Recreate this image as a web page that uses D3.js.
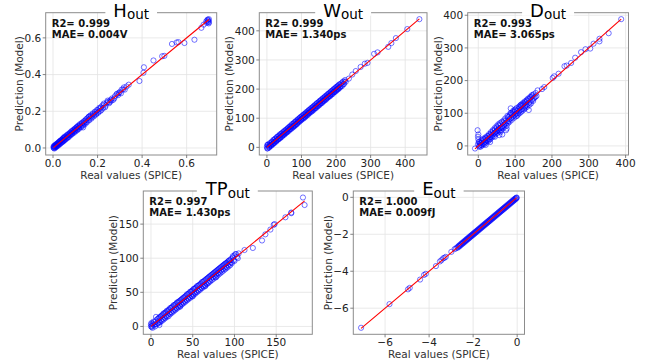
<!DOCTYPE html>
<html><head><meta charset="utf-8">
<script src="https://cdn.jsdelivr.net/npm/d3@7"></script>
<style>body{margin:0;background:#fff} svg{display:block;font-family:"DejaVu Sans",sans-serif}</style>
</head><body>
<svg id="c" width="654" height="360"></svg>
<script>
// ---------- data: [real (SPICE), prediction (model)] ----------
const hData = [[0.002,0.003],[0.004,0.000],[0.005,0.008],[0.007,0.004],[0.008,0.012],[0.010,0.006],[0.012,0.014],[0.013,0.009],[0.015,0.018],[0.017,0.012],[0.019,0.022],[0.021,0.016],[0.023,0.027],[0.025,0.020],[0.027,0.031],[0.029,0.024],[0.031,0.036],[0.033,0.028],[0.035,0.040],[0.037,0.032],[0.040,0.044],[0.042,0.037],[0.045,0.050],[0.047,0.042],[0.050,0.055],[0.052,0.046],[0.055,0.058],[0.058,0.052],[0.060,0.064],[0.063,0.058],[0.066,0.070],[0.069,0.063],[0.072,0.075],[0.075,0.070],[0.078,0.081],[0.081,0.076],[0.084,0.088],[0.087,0.082],[0.090,0.093],[0.093,0.088],[0.096,0.100],[0.099,0.094],[0.102,0.107],[0.105,0.100],[0.108,0.113],[0.111,0.106],[0.114,0.118],[0.117,0.112],[0.120,0.124],[0.124,0.118],[0.128,0.131],[0.132,0.125],[0.135,0.112],[0.136,0.140],[0.140,0.134],[0.144,0.148],[0.148,0.141],[0.152,0.160],[0.156,0.150],[0.160,0.170],[0.163,0.172],[0.165,0.160],[0.170,0.174],[0.175,0.168],[0.180,0.184],[0.185,0.180],[0.190,0.194],[0.195,0.188],[0.200,0.205],[0.205,0.198],[0.210,0.214],[0.215,0.222],[0.218,0.208],[0.222,0.232],[0.225,0.218],[0.230,0.236],[0.236,0.230],[0.242,0.248],[0.248,0.252],[0.252,0.244],[0.258,0.262],[0.265,0.270],[0.270,0.262],[0.278,0.282],[0.285,0.292],[0.292,0.288],[0.300,0.305],[0.308,0.318],[0.315,0.320],[0.322,0.318],[0.340,0.345],[0.388,0.365],[0.406,0.410],[0.408,0.440],[0.451,0.477],[0.490,0.500],[0.500,0.502],[0.534,0.567],[0.555,0.575],[0.563,0.577],[0.590,0.572],[0.635,0.590],[0.666,0.655],[0.676,0.672],[0.688,0.690],[0.690,0.682],[0.693,0.697],[0.695,0.700],[0.697,0.688],[0.698,0.694],[0.700,0.702],[0.699,0.679],[0.700,0.685],
[0.003,0.010],[0.006,-0.003],[0.009,0.016],[0.011,0.002],[0.014,0.021],[0.016,0.007],[0.020,0.026],[0.022,0.012],[0.026,0.033],[0.028,0.018],[0.032,0.039],[0.034,0.024],[0.038,0.045],[0.041,0.031],[0.044,0.052],[0.046,0.036],[0.049,0.058],[0.051,0.041],[0.054,0.063],[0.057,0.047],[0.062,0.070],[0.065,0.054],[0.068,0.076],[0.071,0.060],[0.076,0.084],[0.079,0.069],[0.083,0.092],[0.086,0.076],[0.091,0.099],[0.094,0.083],[0.098,0.106],[0.101,0.090],[0.106,0.114],[0.109,0.097],[0.113,0.122],[0.116,0.104],[0.121,0.130],[0.125,0.112],[0.130,0.138],[0.134,0.121],[0.139,0.146],[0.142,0.128],[0.147,0.155],[0.151,0.138],[0.158,0.166],[0.162,0.150],[0.168,0.178],[0.172,0.160],[0.178,0.188],[0.183,0.172],[0.188,0.198],[0.193,0.182],[0.198,0.208],[0.203,0.192],[0.208,0.219],[0.213,0.202],[0.228,0.242],[0.234,0.222],[0.245,0.258],[0.255,0.250],[0.262,0.258],[0.275,0.270],[0.288,0.296],[0.296,0.300],[0.305,0.298],[0.318,0.330],[0.330,0.335]];

const wData = [[0,2],[1,8],[2,-3],[3,10],[5,4],[6,-1],[8,6],[10,12],[11,7],[13,9],[15,18],[16,12],[18,14],[20,24],[21,17],[23,20],[25,30],[26,22],[28,25],[30,34],[32,28],[34,30],[36,40],[38,34],[40,37],[42,46],[44,40],[46,43],[48,52],[50,46],[52,49],[54,58],[56,52],[58,56],[60,64],[62,59],[64,62],[66,70],[68,64],[70,68],[72,75],[74,71],[76,72],[78,82],[80,76],[82,80],[84,88],[86,80],[88,86],[90,95],[92,89],[94,92],[96,102],[98,95],[100,98],[102,107],[104,101],[106,104],[108,113],[110,106],[112,110],[114,118],[116,113],[118,116],[120,125],[122,119],[124,122],[126,131],[128,125],[130,128],[132,137],[134,131],[136,134],[138,143],[140,136],[142,140],[144,150],[146,142],[148,146],[150,155],[152,149],[154,152],[156,161],[158,154],[160,158],[162,167],[164,160],[166,164],[168,173],[170,166],[172,170],[174,179],[176,173],[178,176],[180,185],[182,178],[184,182],[186,191],[188,184],[190,188],[192,197],[194,190],[196,194],[198,203],[200,196],[202,200],[204,209],[206,202],[208,205],[210,215],[212,208],[215,212],[218,222],[221,216],[224,226],[228,225],[237,236],[247,250],[257,262],[271,276],[283,287],[291,290],[310,321],[320,326],[351,345],[360,358],[373,375],[406,406],[441,440],
[1,-4],[4,9],[7,1],[9,15],[12,5],[14,20],[17,10],[19,26],[22,15],[24,30],[27,20],[29,36],[31,25],[33,39],[35,29],[37,44],[39,32],[41,47],[43,36],[45,51],[47,41],[49,55],[51,44],[53,59],[55,49],[57,62],[59,52],[61,67],[63,56],[65,71],[67,61],[69,75],[71,64],[73,80],[75,68],[77,83],[79,72],[81,88],[83,76],[85,91],[87,81],[89,96],[91,85],[93,99],[95,89],[97,104],[99,93],[101,107],[103,97],[105,112],[107,100],[109,115],[111,104],[113,120],[115,109],[117,123],[119,112],[121,128],[123,117],[125,131],[127,121],[129,136],[131,124],[133,139],[135,128],[137,144],[139,133],[141,147],[143,136],[145,152],[147,141],[149,155],[151,144],[153,160],[155,149],[157,163],[159,152],[161,168],[163,157],[165,171],[167,161],[169,176],[171,164],[173,179],[175,169],[177,184],[179,173],[181,187],[183,176],[185,192],[187,181],[189,195],[191,184],[193,200],[195,189],[197,203],[199,192],[201,208],[203,197],[205,211],[207,200],[209,216],[211,205],[214,219],[217,210],[220,226],[223,218],[226,231]];

const dData = [[-9,-8],[-2,48],[0,35],[-1,28],[0,20],[1,12],[-1,5],[2,0],[3,-3],[5,8],[4,2],[6,10],[8,3],[10,14],[12,6],[14,18],[15,9],[17,12],[18,22],[20,14],[22,25],[23,17],[25,20],[27,30],[28,22],[30,18],[31,33],[33,27],[35,38],[36,30],[38,34],[40,45],[41,36],[43,40],[45,50],[46,41],[48,44],[50,56],[51,46],[53,49],[55,62],[56,50],[58,54],[60,66],[61,55],[63,58],[65,35],[66,60],[68,72],[70,64],[72,68],[74,78],[75,48],[76,70],[78,75],[80,88],[82,76],[84,82],[86,95],[88,84],[89,100],[90,86],[92,97],[94,90],[95,108],[96,93],[98,104],[100,96],[101,112],[103,99],[105,108],[107,101],[109,114],[111,106],[113,118],[115,110],[117,122],[119,113],[121,126],[123,117],[125,130],[127,121],[129,134],[130,125],[132,138],[134,128],[136,142],[138,132],[140,146],[142,136],[144,150],[146,141],[148,155],[150,145],[152,148],[77,53],[57,33],[88,115],[137,110],[32,12],[20,3],[45,28],[60,42],[105,92],[115,125],[161,170],[173,174],[179,180],[202,208],[206,213],[218,221],[234,244],[240,246],[252,254],[263,270],[279,287],[291,296],[304,298],[313,313],[329,320],[329,328],[354,345],[388,388],
[3,12],[7,-2],[9,18],[11,2],[13,22],[16,5],[19,26],[21,10],[24,30],[26,14],[29,36],[32,21],[34,42],[37,26],[39,48],[42,30],[44,54],[47,36],[49,60],[52,40],[54,66],[57,45],[59,70],[62,48],[64,74],[67,54],[69,78],[71,58],[73,84],[77,62],[79,92],[81,70],[83,90],[85,74],[87,100],[91,80],[93,104],[97,86],[99,110],[102,90],[104,116],[108,96],[110,120],[112,100],[114,124],[116,104],[118,128],[120,108],[122,132],[124,112],[126,136],[128,116],[131,140],[133,120],[135,145],[139,126],[141,150],[143,130],[145,155],[149,138],[150,158],[155,150],[156,162],[158,153]];

const tpData = [[0,0],[0,3],[1,1],[2,4],[1,-1],[3,2],[4,6],[5,3],[6,14],[8,5],[9,12],[10,7],[11,14],[12,9],[13,16],[14,11],[15,19],[16,13],[17,20],[18,15],[19,23],[20,17],[21,24],[22,19],[23,27],[24,21],[25,28],[26,23],[27,31],[28,25],[29,32],[30,27],[31,35],[32,29],[33,36],[34,31],[35,38],[36,33],[37,40],[38,35],[39,42],[40,37],[41,44],[42,39],[43,47],[44,41],[45,48],[46,43],[47,51],[48,45],[49,52],[50,47],[51,55],[52,49],[53,56],[54,51],[55,59],[56,53],[57,60],[58,55],[59,62],[60,57],[61,65],[62,59],[63,66],[64,61],[65,68],[66,63],[67,70],[68,64],[69,72],[70,67],[71,74],[72,70],[73,76],[74,72],[75,78],[76,74],[77,80],[78,76],[79,82],[80,78],[81,84],[82,80],[83,86],[84,82],[85,88],[86,84],[87,90],[88,86],[89,92],[90,87],[91,93],[92,90],[93,96],[94,92],[95,97],[96,94],[98,101],[99,97],[100,104],[101,106],[103,102],[35,30],[50,44],[10,2],[65,60],[78,72],[105,107],[112,112],[122,115],[133,126],[137,135],[143,142],[147,149],[148,150],[161,160],[168,166],[168,167],[182,189],[184,178],
[0.5,5],[2,-2],[3,7],[5,0],[6,9],[7,3],[8,11],[9,5],[10,13],[11,6],[12,15],[13,8],[14,17],[15,10],[16,19],[17,12],[18,21],[19,14],[20,22],[21,15],[22,25],[23,18],[24,27],[25,20],[26,29],[27,22],[28,31],[29,24],[30,33],[31,26],[32,35],[33,28],[34,37],[35,29],[36,39],[37,32],[38,41],[39,34],[40,43],[41,36],[42,45],[43,38],[44,47],[45,40],[46,49],[47,42],[48,51],[49,44],[50,53],[51,46],[52,55],[53,48],[54,57],[55,50],[56,59],[57,52],[58,61],[59,54],[60,63],[61,56],[62,65],[63,58],[64,67],[65,59],[66,69],[67,62],[68,71],[69,64],[70,73],[71,66],[72,75],[73,68],[74,77],[75,70],[76,79],[77,72],[78,81],[79,74],[80,83],[81,76],[82,85],[83,78],[84,87],[85,80],[86,89],[87,82],[88,91],[89,84],[90,93],[91,86],[92,95],[93,88],[94,97],[95,90],[96,99],[97,93],[98,103],[100,96],[102,106],[104,100]];

const eData = [[-7.09,-7.06],[-5.80,-5.78],[-4.96,-4.98],[-4.88,-4.90],[-4.41,-4.45],[-4.23,-4.20],[-4.15,-4.14],[-3.69,-3.72],[-3.51,-3.47],[-3.44,-3.40],[-3.36,-3.30],[-3.30,-3.27],[-3.24,-3.22],[-2.99,-2.95],[-2.84,-2.80],[-2.78,-2.76],[-2.72,-2.70],[-2.69,-2.72],[-2.66,-2.63],[-2.63,-2.66],[-2.61,-2.58],[-2.58,-2.61],[-2.55,-2.52],[-2.52,-2.55],[-2.50,-2.47],[-2.47,-2.50],[-2.45,-2.42],[-2.42,-2.45],[-2.40,-2.37],[-2.37,-2.40],[-2.35,-2.32],[-2.32,-2.35],[-2.30,-2.27],[-2.27,-2.30],[-2.25,-2.22],[-2.22,-2.25],[-2.20,-2.17],[-2.17,-2.20],[-2.15,-2.12],[-2.12,-2.15],[-2.10,-2.07],[-2.07,-2.10],[-2.05,-2.02],[-2.02,-2.05],[-2.00,-1.97],[-1.97,-2.00],[-1.95,-1.92],[-1.92,-1.95],[-1.90,-1.87],[-1.87,-1.90],[-1.85,-1.82],[-1.82,-1.85],[-1.80,-1.77],[-1.77,-1.80],[-1.75,-1.72],[-1.72,-1.75],[-1.70,-1.67],[-1.67,-1.70],[-1.65,-1.62],[-1.62,-1.65],[-1.60,-1.57],[-1.57,-1.60],[-1.55,-1.52],[-1.52,-1.55],[-1.50,-1.47],[-1.47,-1.50],[-1.45,-1.42],[-1.42,-1.45],[-1.40,-1.37],[-1.37,-1.40],[-1.35,-1.32],[-1.32,-1.35],[-1.30,-1.27],[-1.27,-1.30],[-1.25,-1.22],[-1.22,-1.25],[-1.20,-1.17],[-1.17,-1.20],[-1.15,-1.12],[-1.12,-1.15],[-1.10,-1.07],[-1.07,-1.10],[-1.05,-1.02],[-1.02,-1.05],[-1.00,-0.97],[-0.97,-1.00],[-0.95,-0.92],[-0.92,-0.95],[-0.90,-0.87],[-0.87,-0.90],[-0.85,-0.82],[-0.82,-0.85],[-0.80,-0.77],[-0.77,-0.80],[-0.75,-0.72],[-0.72,-0.75],[-0.70,-0.67],[-0.67,-0.70],[-0.65,-0.62],[-0.62,-0.65],[-0.60,-0.57],[-0.57,-0.60],[-0.55,-0.52],[-0.52,-0.55],[-0.50,-0.47],[-0.47,-0.50],[-0.45,-0.42],[-0.42,-0.45],[-0.40,-0.37],[-0.37,-0.40],[-0.35,-0.32],[-0.32,-0.35],[-0.30,-0.27],[-0.27,-0.30],[-0.25,-0.22],[-0.22,-0.25],[-0.20,-0.17],[-0.17,-0.20],[-0.15,-0.12],[-0.12,-0.15],[-0.10,-0.07],[-0.07,-0.10],[-0.05,-0.03],[-0.03,-0.05],[-0.02,-0.01]];

// tick labels per panel
const hTicks = [0, 0.2, 0.4, 0.6];
const wTicks = [0, 100, 200, 300, 400];
const dTicks = [0, 100, 200, 300, 400];
const tpTicks = [0, 50, 100, 150];
const eTicks = [-6, -4, -2, 0];

// titles and metrics
const titles = [["H","out"],["W","out"],["D","out"],["TP","out"],["E","out"]];
const r2Text = ["R2= 0.999","R2= 0.999","R2= 0.993","R2= 0.997","R2= 1.000"];
const maeText = ["MAE= 0.004V","MAE= 1.340ps","MAE= 3.065ps","MAE= 1.430ps","MAE= 0.009fJ"];

// ---------- layout ----------
const frames = [
  [45.7, 12.7, 216.7, 155],
  [259.3, 12.7, 427, 155],
  [467.7, 12.7, 628.5, 155],
  [143.3, 191, 312.3, 334.3],
  [353.3, 191, 524.5, 334.3]
];
const datasets = [hData, wData, dData, tpData, eData];
const tickSets = [hTicks, wTicks, dTicks, tpTicks, eTicks];
const fmts = [d3.format(".1f"), d3.format("d"), d3.format("d"), d3.format("d"), d3.format("d")];

const svg = d3.select("#c");

function padDomain(ext){ const r = ext[1]-ext[0]; return [ext[0]-0.05*r, ext[1]+0.05*r]; }

datasets.forEach((data, i) => {
  const [L, T, R, B] = frames[i];
  const xs = d3.extent(data, d => d[0]);
  const ys = d3.extent(data, d => d[1]);
  const x = d3.scaleLinear().domain(padDomain(xs)).range([L, R]);
  const y = d3.scaleLinear().domain(padDomain(ys)).range([B, T]);
  const g = svg.append("g");
  const ticks = tickSets[i], fmt = fmts[i];

  const cid = "clip" + i;
  svg.append("clipPath").attr("id", cid).append("rect")
    .attr("x", L).attr("y", T).attr("width", R - L).attr("height", B - T);

  // grid
  g.selectAll(".gx").data(ticks).join("line").attr("class","gx")
    .attr("x1", d => x(d)).attr("x2", d => x(d)).attr("y1", T).attr("y2", B)
    .attr("stroke", "#e3e3e3").attr("stroke-width", 0.8);
  g.selectAll(".gy").data(ticks).join("line").attr("class","gy")
    .attr("y1", d => y(d)).attr("y2", d => y(d)).attr("x1", L).attr("x2", R)
    .attr("stroke", "#e3e3e3").attr("stroke-width", 0.8);

  // points
  const pg = g.append("g").attr("clip-path", `url(#${cid})`);
  pg.selectAll("circle").data(data).join("circle")
    .attr("cx", d => x(d[0])).attr("cy", d => y(d[1])).attr("r", 2.6)
    .attr("fill", "none").attr("stroke", "#0000ff").attr("stroke-opacity", 0.55).attr("stroke-width", 1);

  // identity line
  pg.append("line")
    .attr("x1", x(xs[0])).attr("y1", y(xs[0])).attr("x2", x(xs[1])).attr("y2", y(xs[1]))
    .attr("stroke", "#ff0000").attr("stroke-width", 1.1);

  // frame
  g.append("rect").attr("x", L).attr("y", T).attr("width", R - L).attr("height", B - T)
    .attr("fill", "none").attr("stroke", "#8c8c8c").attr("stroke-width", 1);

  // ticks
  g.selectAll(".tx").data(ticks).join("line").attr("class","tx")
    .attr("x1", d => x(d)).attr("x2", d => x(d)).attr("y1", B).attr("y2", B + 3)
    .attr("stroke", "#666").attr("stroke-width", 0.8);
  g.selectAll(".ty").data(ticks).join("line").attr("class","ty")
    .attr("y1", d => y(d)).attr("y2", d => y(d)).attr("x1", L - 3).attr("x2", L)
    .attr("stroke", "#666").attr("stroke-width", 0.8);
  g.selectAll(".lx").data(ticks).join("text").attr("class","lx")
    .attr("x", d => x(d)).attr("y", B + 12).attr("text-anchor", "middle")
    .attr("font-size", 10.5).attr("fill", "#222").text(fmt);
  const ly = g.selectAll(".ly").data(ticks).join("text").attr("class","ly")
    .attr("x", L - 4.5).attr("y", d => y(d) + 3.8).attr("text-anchor", "end")
    .attr("font-size", 10.5).attr("fill", "#222").text(fmt);
  let maxW = 0; ly.each(function(){ maxW = Math.max(maxW, this.getComputedTextLength()); });

  // axis labels
  g.append("text").attr("x", (L + R) / 2).attr("y", B + 23.5).attr("text-anchor", "middle")
    .attr("font-size", 10.5).attr("fill", "#333").text("Real values (SPICE)");
  const yl = L - 4.5 - maxW - 1.5;
  g.append("text").attr("transform", `translate(${yl},${(T + B) / 2}) rotate(-90)`)
    .attr("text-anchor", "middle").attr("font-size", 10.5).attr("fill", "#333").text("Prediction (Model)");

  // metrics
  g.append("text").attr("x", L + 6).attr("y", T + 14).attr("font-size", 10).attr("font-weight", "bold")
    .attr("fill", "#111").text(r2Text[i]);
  g.append("text").attr("x", L + 6).attr("y", T + 25).attr("font-size", 10).attr("font-weight", "bold")
    .attr("fill", "#111").text(maeText[i]);

  // title with white box
  const bg = g.append("rect").attr("fill", "#fff");
  const tt = g.append("text").attr("x", (L + R) / 2).attr("y", T + 4).attr("text-anchor", "middle")
    .attr("fill", "#000");
  tt.append("tspan").attr("font-size", 18).text(titles[i][0]);
  tt.append("tspan").attr("font-size", 13.5).attr("dy", 2.5).text(titles[i][1]);
  const bb = tt.node().getBBox();
  bg.attr("x", bb.x - 8).attr("y", T - 3).attr("width", bb.width + 16).attr("height", 6);
});
</script>
</body></html>
